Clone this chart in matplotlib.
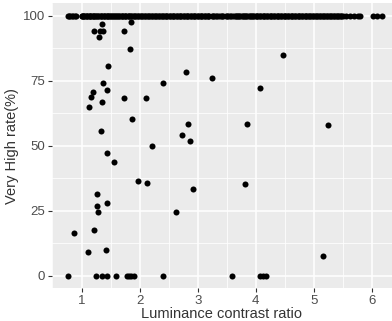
import matplotlib.pyplot as plt
from matplotlib.ticker import MultipleLocator

plt.rcParams['font.family'] = ['Liberation Sans', 'DejaVu Sans']

# points sitting on the 100% line
top_x = [0.77, 0.79, 0.81, 0.83, 0.86, 0.89, 0.91,
         1.00, 1.02, 1.05, 1.07, 1.10, 1.12, 1.15, 1.17, 1.20, 1.22, 1.25, 1.27, 1.30, 1.33,
         1.35, 1.38, 1.40, 1.43, 1.45, 1.48, 1.50, 1.53, 1.56, 1.58, 1.61, 1.63, 1.66, 1.69,
         1.71, 1.74, 1.77, 1.80, 1.82, 1.85, 1.88, 1.91, 1.94, 1.97, 2.00, 2.03, 2.06, 2.09,
         2.12, 2.15, 2.18, 2.21, 2.24, 2.27, 2.30, 2.33, 2.36, 2.39, 2.42, 2.45, 2.48, 2.51,
         2.54, 2.57, 2.60, 2.63, 2.66, 2.69, 2.72, 2.75, 2.78, 2.81, 2.84, 2.87, 2.90, 2.93,
         2.96, 2.99, 3.02, 3.05, 3.08, 3.11, 3.14, 3.17, 3.20, 3.24, 3.28, 3.32, 3.36, 3.40,
         3.44, 3.48, 3.52, 3.56, 3.60, 3.64, 3.67, 3.70, 3.73, 3.76, 3.79, 3.82, 3.85, 3.88,
         3.91, 3.94, 3.97, 4.00, 4.03, 4.06, 4.09, 4.12, 4.15, 4.18, 4.21, 4.24, 4.27, 4.30,
         4.33, 4.36, 4.39, 4.42, 4.45, 4.48, 4.51, 4.54, 4.57, 4.60, 4.63, 4.66, 4.69, 4.72,
         4.75, 4.78, 4.81, 4.84, 4.87, 4.90, 4.93, 4.96, 4.99, 5.02, 5.05, 5.08, 5.11, 5.14,
         5.17, 5.20, 5.23, 5.26, 5.29, 5.32, 5.35, 5.38, 5.41, 5.44, 5.47, 5.50, 5.55, 5.62,
         5.69, 5.76, 5.80, 6.02, 6.09, 6.17,
         # second pass, fills the gaps of the dense run
         1.01, 1.04, 1.09, 1.14, 1.19, 1.24, 1.29, 1.34, 1.39, 1.44, 1.49, 1.54, 1.59, 1.64,
         1.70, 1.75, 1.81, 1.86, 1.92, 1.98, 2.04, 2.10, 2.16, 2.22, 2.28, 2.34, 2.40, 2.46,
         2.52, 2.58, 2.64, 2.70, 2.76, 2.82, 2.88, 2.94, 3.00, 3.06, 3.12, 3.18, 3.26, 3.34,
         3.42, 3.50, 3.58, 3.66, 3.72, 3.78, 3.84, 3.90, 3.96, 4.02, 4.08, 4.14, 4.20, 4.26,
         4.32, 4.38, 4.44, 4.50, 4.56, 4.62, 4.68, 4.74, 4.80, 4.86, 4.92, 4.98, 5.04, 5.10,
         5.16, 5.22, 5.28, 5.34, 5.40, 5.46]

# points at 0%
zero_x = [0.77, 1.245, 1.35, 1.44, 1.59, 1.78, 1.82, 1.86, 1.90, 2.40,
          3.59, 4.075, 4.12, 4.17]

# everything in between
mid_x = [1.35, 1.85, 1.215, 1.31, 1.375, 1.30, 1.73, 1.84, 1.46, 2.795,
         3.255, 1.375, 2.405, 1.435, 1.195, 1.16, 1.73, 2.105, 1.35, 1.135,
         1.875, 2.84, 1.335, 2.73, 2.86, 2.215, 4.477, 4.075, 3.846, 5.247,
         1.445, 1.565, 1.97, 2.125, 2.915, 1.273, 1.273, 1.44, 1.29, 2.63,
         1.215, 0.866, 1.417, 1.107, 3.817, 5.156]
mid_y = [96.7, 97.7, 94.1, 94.1, 94.1, 91.9, 94.0, 87.3, 80.8, 78.3,
         75.9, 74.2, 74.1, 71.5, 70.5, 68.6, 68.3, 68.3, 66.9, 65.0,
         60.3, 58.3, 55.8, 54.2, 51.9, 50.0, 85.0, 72.2, 58.3, 57.8,
         47.1, 43.7, 36.3, 35.7, 33.3, 31.3, 26.9, 27.8, 24.4, 24.6,
         17.6, 16.4, 10.0, 9.2, 35.1, 7.5]

xs = top_x + zero_x + mid_x
ys = [100] * len(top_x) + [0] * len(zero_x) + mid_y

fig = plt.figure(figsize=(3.92, 3.21), dpi=100)
ax = fig.add_axes([0.132, 0.102, 0.867, 0.889])
ax.set_facecolor('#EBEBEB')

ax.scatter(xs, ys, s=19, color='black', linewidths=0, zorder=3)

ax.set_xlim(0.487, 6.34)
ax.set_ylim(-4.85, 104.9)
ax.xaxis.set_major_locator(MultipleLocator(1))
ax.xaxis.set_minor_locator(MultipleLocator(0.5))
ax.yaxis.set_major_locator(MultipleLocator(25))
ax.yaxis.set_minor_locator(MultipleLocator(12.5))

ax.grid(which='major', color='white', linewidth=1.1)
ax.grid(which='minor', color='white', linewidth=0.55)
ax.set_axisbelow(True)
for sp in ax.spines.values():
    sp.set_visible(False)

ax.tick_params(which='major', length=2.7, width=0.8, color='#333333',
               labelcolor='#4D4D4D', labelsize=9.5, pad=2)
ax.tick_params(which='minor', length=0)

ax.set_xlabel('Luminance contrast ratio', fontsize=10.5, color='#333333', labelpad=0.5)
ax.set_ylabel('Very High rate(%)', fontsize=10.5, color='#333333', labelpad=3)

fig.savefig('out.png', dpi=100)
